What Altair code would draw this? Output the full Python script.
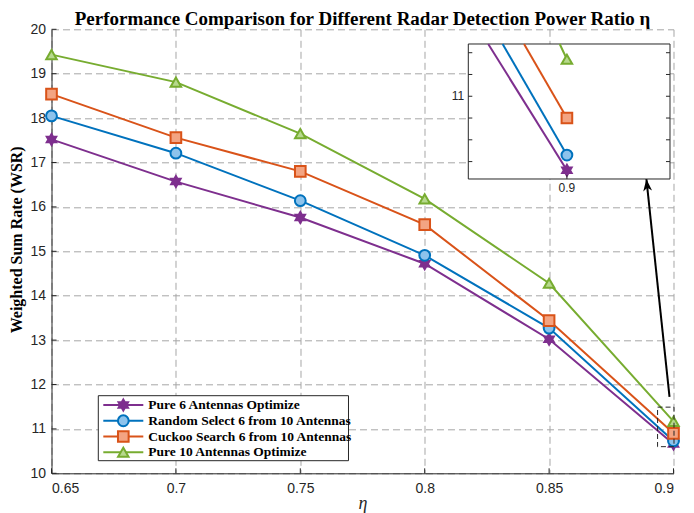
import math
import pandas as pd
import altair as alt

# ---------------- data ----------------
eta = [0.65, 0.70, 0.75, 0.80, 0.85, 0.90]
series_names = [
    "Pure 6 Antennas Optimize",
    "Random Select 6 from 10 Antennas",
    "Cuckoo Search 6 from 10 Antennas",
    "Pure 10 Antennas Optimize",
]
pure6 = [17.52, 16.57, 15.76, 14.72, 13.02, 10.66]
random6 = [18.05, 17.21, 16.14, 14.91, 13.27, 10.73]
cuckoo6 = [18.54, 17.56, 16.80, 15.60, 13.44, 10.90]
pure10 = [19.43, 18.81, 17.65, 16.18, 14.28, 11.17]

x_ticks = [0.65, 0.70, 0.75, 0.80, 0.85, 0.90]
y_ticks = [10, 11, 12, 13, 14, 15, 16, 17, 18, 19, 20]
inset_y_ticks = [10.7, 10.8, 10.9, 11.0, 11.1, 11.2]
inset_y_labels = [11.0]
inset_x_labels = [0.9]

line_colors = ["#7E2F8E", "#0072BD", "#D95319", "#77AC30"]
fill_colors = ["#7E2F8E", "#8DC3EC", "#F3A482", "#B7D98D"]

# zoom annotation (main axes coordinates)
zoom_box = {"x": [0.8936], "x2": [0.9002], "y": [10.60], "y2": [11.49]}
arrow = {"x": [0.8984], "y": [11.72], "x2": [0.8891], "y2": [16.63]}

# ---------------- layout ----------------
W, H = 622, 444
INSET_XD = [0.8846, 0.9161]
INSET_YD = [10.62, 11.24]
INSET_XR = [416.8, 618.5]
INSET_YR = [149.7, 14.7]

AX = "#262626"
SANS = "Liberation Sans"
SERIF = "Liberation Serif"

# hexagram marker path
pts = []
for k in range(12):
    a = math.radians(-90 + 30 * k)
    r = 1.0 if k % 2 == 0 else 0.577
    pts.append(f"{r*math.cos(a):.3f},{r*math.sin(a):.3f}")
hexagram = "M" + "L".join(pts) + "Z"
shapes = [hexagram, "circle", "square", "triangle-up"]
sizes = [120, 110, 70, 150]
arrow_head = "M0,0L0.8,2.2L0,1.6L-0.8,2.2Z"

values = [pure6, random6, cuckoo6, pure10]
rows = []
for s, vals in zip(series_names, values):
    for e, v in zip(eta, vals):
        rows.append({"eta": e, "wsr": v, "series": s})
df = pd.DataFrame(rows)

color_sc = alt.Scale(domain=series_names, range=line_colors)
fill_sc = alt.Scale(domain=series_names, range=fill_colors)
shape_sc = alt.Scale(domain=series_names, range=shapes)
size_sc = alt.Scale(domain=series_names, range=sizes)

x_axis = alt.Axis(values=x_ticks, format=".2~f", title="η", grid=True,
                  gridDash=[7, 4], gridColor="#a6a6a6", gridWidth=1,
                  domainColor=AX, ticks=False, labelPadding=8,
                  labelFont=SANS, labelFontSize=14, labelColor=AX,
                  titleFont=SERIF, titleFontSize=18, titleFontStyle="italic",
                  titleFontWeight="normal", titleColor=AX, titleY=35,
                  titleBaseline="alphabetic")
y_axis = alt.Axis(values=y_ticks, title="Weighted Sum Rate (WSR)", grid=True,
                  gridDash=[7, 4], gridColor="#a6a6a6", gridWidth=1,
                  domainColor=AX, ticks=False, labelPadding=6,
                  labelFont=SANS, labelFontSize=14, labelColor=AX,
                  titleFont=SERIF, titleFontSize=16, titleFontWeight="bold",
                  titleColor="#000000", titleX=-35, titleY=210,
                  titleBaseline="middle", titleAngle=270)
xs = alt.Scale(domain=[0.65, 0.9], nice=False, zero=False)
ys = alt.Scale(domain=[10, 20], nice=False, zero=False)

X = lambda f: alt.X(f, type="quantitative", scale=xs, axis=x_axis)
Y = lambda f: alt.Y(f, type="quantitative", scale=ys, axis=y_axis)

base = alt.Chart(df)

# inward ticks
xt = alt.Chart(pd.DataFrame({"eta": x_ticks})).mark_rule(color=AX, strokeWidth=1).encode(
    x=X("eta"), y=alt.value(H), y2=alt.value(H - 5))
yt = alt.Chart(pd.DataFrame({"wsr": y_ticks})).mark_rule(color=AX, strokeWidth=1).encode(
    y=Y("wsr"), x=alt.value(0), x2=alt.value(5))

lines = base.mark_line(strokeWidth=2).encode(
    x=X("eta"), y=Y("wsr"),
    color=alt.Color("series:N", scale=color_sc, legend=None),
    detail="series:N")
points = base.mark_point(filled=True, strokeWidth=2, opacity=1).encode(
    x=X("eta"), y=Y("wsr"),
    fill=alt.Fill("series:N", scale=fill_sc, legend=None),
    stroke=alt.Stroke("series:N", scale=color_sc, legend=None),
    shape=alt.Shape("series:N", scale=shape_sc, legend=None),
    size=alt.Size("series:N", scale=size_sc, legend=None))

zrect = alt.Chart(pd.DataFrame(zoom_box)).mark_rect(
    fillOpacity=0, stroke=AX, strokeWidth=1, strokeDash=[5, 3]).encode(
    x=X("x"), x2="x2", y=Y("y"), y2="y2")
arr_line = alt.Chart(pd.DataFrame(arrow)).mark_rule(color="#000000", strokeWidth=2).encode(
    x=X("x"), y=Y("y"), x2="x2", y2="y2")
arr_head = alt.Chart(pd.DataFrame(arrow)).mark_point(
    filled=True, color="#000000", shape=arrow_head, size=121, angle=354, opacity=1).encode(
    x=X("x2"), y=Y("y2"))

main = alt.layer(yt, xt, lines, points, zrect, arr_line, arr_head)

# ---------------- inset ----------------
def clip(x0, y0, x1, y1, xmin, xmax, ymin, ymax):
    dx, dy = x1 - x0, y1 - y0
    t0, t1 = 0.0, 1.0
    for p, q in ((-dx, x0 - xmin), (dx, xmax - x0), (-dy, y0 - ymin), (dy, ymax - y0)):
        if p == 0:
            continue
        t = q / p
        if p < 0:
            t0 = max(t0, t)
        else:
            t1 = min(t1, t)
    return (x0 + t0 * dx, y0 + t0 * dy, x0 + t1 * dx, y0 + t1 * dy)

seg_rows = []
for s, vals in zip(series_names, values):
    a = clip(eta[-2], vals[-2], eta[-1], vals[-1], INSET_XD[0], INSET_XD[1], INSET_YD[0], INSET_YD[1])
    seg_rows.append({"series": s, "eta": a[0], "wsr": a[1], "k": 0})
    seg_rows.append({"series": s, "eta": a[2], "wsr": a[3], "k": 1})
seg = pd.DataFrame(seg_rows)
last = df[df["eta"] == eta[-1]]

ixs = alt.Scale(domain=INSET_XD, range=INSET_XR, nice=False, zero=False)
iys = alt.Scale(domain=INSET_YD, range=INSET_YR, nice=False, zero=False)
IX = lambda f: alt.X(f, type="quantitative", scale=ixs, axis=None)
IY = lambda f: alt.Y(f, type="quantitative", scale=iys, axis=None)

one = pd.DataFrame({"a": [0]})
ibox = alt.Chart(one).mark_rect(fill="white", stroke=AX, strokeWidth=1).encode(
    x=alt.value(INSET_XR[0]), x2=alt.value(INSET_XR[1]),
    y=alt.value(INSET_YR[1]), y2=alt.value(INSET_YR[0]))
ilines = alt.Chart(seg).mark_line(strokeWidth=2).encode(
    x=IX("eta"), y=IY("wsr"), order="k:Q",
    color=alt.Color("series:N", scale=color_sc, legend=None))
ipoints = alt.Chart(last).mark_point(filled=True, strokeWidth=2, opacity=1).encode(
    x=IX("eta"), y=IY("wsr"),
    fill=alt.Fill("series:N", scale=fill_sc, legend=None),
    stroke=alt.Stroke("series:N", scale=color_sc, legend=None),
    shape=alt.Shape("series:N", scale=shape_sc, legend=None),
    size=alt.Size("series:N", scale=size_sc, legend=None))
iyt = pd.DataFrame({"wsr": inset_y_ticks})
ityl = alt.Chart(iyt).mark_rule(color=AX).encode(
    y=IY("wsr"), x=alt.value(INSET_XR[0]), x2=alt.value(INSET_XR[0] + 4))
ityr = alt.Chart(iyt).mark_rule(color=AX).encode(
    y=IY("wsr"), x=alt.value(INSET_XR[1] - 4), x2=alt.value(INSET_XR[1]))
itx = alt.Chart(pd.DataFrame({"eta": inset_x_labels})).mark_rule(color=AX).encode(
    x=IX("eta"), y=alt.value(INSET_YR[0] - 4), y2=alt.value(INSET_YR[0]))
iylab = alt.Chart(pd.DataFrame({"wsr": inset_y_labels})).mark_text(
    align="right", baseline="middle", font=SANS, fontSize=12, color=AX).encode(
    y=IY("wsr"), x=alt.value(INSET_XR[0] - 4), text=alt.Text("wsr:Q", format="~g"))
ixlab = alt.Chart(pd.DataFrame({"eta": inset_x_labels})).mark_text(
    align="center", baseline="top", font=SANS, fontSize=12, color=AX).encode(
    x=IX("eta"), y=alt.value(INSET_YR[0] + 4), text=alt.Text("eta:Q", format="~g"))

inset = alt.layer(ibox, ilines, ipoints, ityl, ityr, itx, iylab, ixlab)

# ---------------- legend ----------------
ldf = pd.DataFrame({"series": series_names})
lys = alt.Scale(type="point", domain=series_names, range=[375.7, 423.0], padding=0)
LY = alt.Y("series:N", scale=lys, axis=None)
lbox = alt.Chart(one).mark_rect(fill="white", stroke=AX, strokeWidth=1).encode(
    x=alt.value(46.8), x2=alt.value(297.0), y=alt.value(366.4), y2=alt.value(431.4))
lrule = alt.Chart(ldf).mark_rule(strokeWidth=2).encode(
    y=LY, x=alt.value(51.8), x2=alt.value(91.8),
    color=alt.Color("series:N", scale=color_sc, legend=None))
lpts = alt.Chart(ldf).mark_point(filled=True, strokeWidth=2, opacity=1).encode(
    y=LY, x=alt.value(71.8),
    fill=alt.Fill("series:N", scale=fill_sc, legend=None),
    stroke=alt.Stroke("series:N", scale=color_sc, legend=None),
    shape=alt.Shape("series:N", scale=shape_sc, legend=None),
    size=alt.Size("series:N", scale=size_sc, legend=None))
ltext = alt.Chart(ldf).mark_text(align="left", baseline="middle", font=SERIF,
                                 fontWeight="bold", fontSize=13.5, color="#000000").encode(
    y=LY, x=alt.value(96.8), text="series:N")
legend = alt.layer(lbox, lrule, lpts, ltext)

chart = alt.layer(main, inset, legend).resolve_scale(
    x="independent", y="independent"
).properties(
    width=W, height=H,
    title=alt.TitleParams("Performance Comparison for Different Radar Detection Power Ratio η",
                          font=SERIF, fontSize=19, fontWeight="bold", color="#000000",
                          anchor="middle", offset=8, dy=15),
    autosize=alt.AutoSizeParams(type="none"),
    padding={"left": 43.5, "top": 21.3, "right": 12.5, "bottom": 40},
).configure_view(stroke=None)

chart.save("out.html", embed_options={"renderer": "svg", "actions": False})
